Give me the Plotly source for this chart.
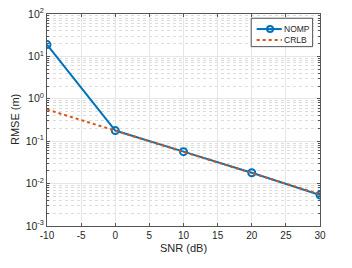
import plotly.graph_objects as go

snr = [-10, 0, 10, 20, 30]
nomp = [19.0, 0.178, 0.0567, 0.018, 0.0054]
crlb = [0.56, 0.177, 0.056, 0.0177, 0.0056]

ytick_vals = [1e-3, 1e-2, 1e-1, 1e0, 1e1, 1e2]
ytick_text = ["10<sup>-3</sup>", "10<sup>-2</sup>", "10<sup>-1</sup>", "10<sup>0</sup>", "10<sup>1</sup>", "10<sup>2</sup>"]
xtick_vals = [-10, -5, 0, 5, 10, 15, 20, 25, 30]
xtick_text = ["-10", "-5", "0", "5", "10", "15", "20", "25", "30"]
yminor_vals = [m * d for d in [1e-3, 1e-2, 1e-1, 1e0, 1e1] for m in range(2, 10)]
series_names = ["NOMP", "CRLB"]

blue = "#0072BD"
orange = "#D95319"
axcol = "#555555"
font = "Liberation Sans, Arial, sans-serif"

fig = go.Figure()
fig.add_trace(go.Scatter(
    x=snr, y=nomp, name=series_names[0], mode="lines+markers",
    line=dict(color=blue, width=2),
    marker=dict(symbol="circle-open", size=7, color=blue, line=dict(width=2, color=blue)),
))
fig.add_trace(go.Scatter(
    x=snr, y=crlb, name=series_names[1], mode="lines",
    line=dict(color=orange, width=2, dash="dot"),
))

# Compact MATLAB-style legend drawn in paper coordinates
fig.add_shape(type="rect", xref="paper", yref="paper", x0=0.748, x1=0.973, y0=0.846, y1=0.980,
              line=dict(color="#262626", width=0.8), fillcolor="white", layer="above")
fig.add_shape(type="line", xref="paper", yref="paper", x0=0.768, x1=0.860, y0=0.929, y1=0.929,
              line=dict(color=blue, width=2))
fig.add_shape(type="circle", xref="paper", yref="paper", xsizemode="pixel", ysizemode="pixel",
              xanchor=0.817, yanchor=0.929, x0=-3, x1=3, y0=-3, y1=3,
              line=dict(color=blue, width=2), fillcolor="rgba(0,0,0,0)")
fig.add_shape(type="line", xref="paper", yref="paper", x0=0.768, x1=0.860, y0=0.877, y1=0.877,
              line=dict(color=orange, width=2, dash="dot"))
for name, yy in zip(series_names, [0.929, 0.877]):
    fig.add_annotation(text=name, xref="paper", yref="paper", x=0.862, y=yy,
                       xanchor="left", yanchor="middle", showarrow=False,
                       font=dict(size=8.5, color="#262626"))

# Axis titles
fig.add_annotation(text="SNR (dB)", xref="paper", yref="paper", x=0.5, y=-0.104,
                   xanchor="center", yanchor="middle", showarrow=False, font=dict(size=11))
fig.add_annotation(text="RMSE (m)", xref="paper", yref="paper", x=-0.117, y=0.5, textangle=-90,
                   xanchor="center", yanchor="middle", showarrow=False, font=dict(size=11))

fig.update_layout(
    width=352, height=268,
    margin=dict(l=47, r=32, t=14, b=42),
    paper_bgcolor="white", plot_bgcolor="white",
    font=dict(family=font, size=10, color="#262626"),
    showlegend=False,
    xaxis=dict(
        range=[-10, 30], tickvals=xtick_vals, ticktext=xtick_text,
        automargin=False,
        showline=True, linecolor=axcol, linewidth=1, mirror="ticks",
        ticks="inside", ticklen=3, tickcolor=axcol,
        tickfont=dict(size=10), ticklabeloverflow="allow",
        showgrid=True, gridcolor="#e6e6e6", gridwidth=1,
        zeroline=False,
    ),
    yaxis=dict(
        type="log", range=[-3, 2], tickvals=ytick_vals, ticktext=ytick_text,
        automargin=False,
        showline=True, linecolor=axcol, linewidth=1, mirror="ticks",
        ticks="inside", ticklen=3, tickcolor=axcol,
        tickfont=dict(size=10.5), ticklabeloverflow="allow",
        showgrid=True, gridcolor="#e6e6e6", gridwidth=1,
        minor=dict(tickmode="array", tickvals=yminor_vals, ticks="inside", ticklen=2, tickcolor=axcol,
                   showgrid=True, gridcolor="#dcdcdc", griddash="dot", gridwidth=1),
        zeroline=False,
    ),
)

fig.write_html("out.html", config={"displayModeBar": False},
               post_script="document.body.style.margin='0px';")
